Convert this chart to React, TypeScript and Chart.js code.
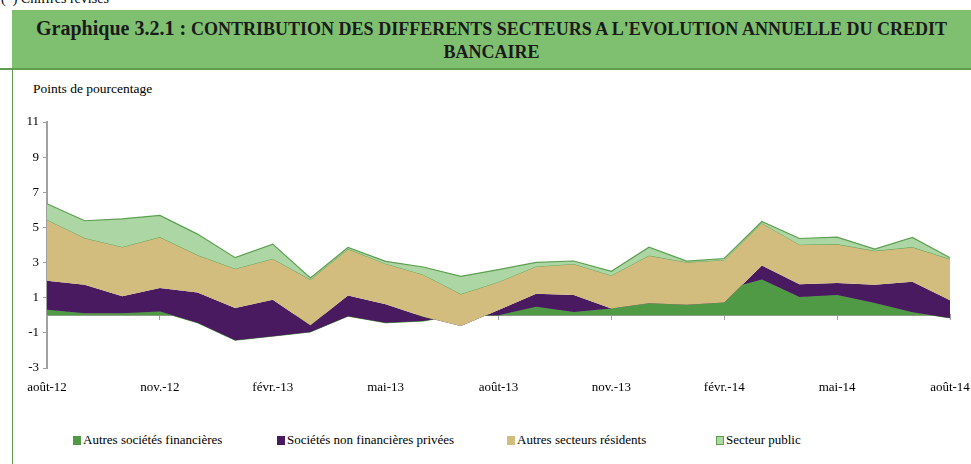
import React, { useEffect, useRef } from 'react';
import { Chart, registerables } from 'chart.js';

Chart.register(...registerables);

const months = ['août-12', 'sept.-12', 'oct.-12', 'nov.-12', 'déc.-12', 'janv.-13', 'févr.-13', 'mars-13', 'avr.-13', 'mai-13', 'juin-13', 'juil.-13', 'août-13', 'sept.-13', 'oct.-13', 'nov.-13', 'déc.-13', 'janv.-14', 'févr.-14', 'mars-14', 'avr.-14', 'mai-14', 'juin-14', 'juil.-14', 'août-14'];

const autresSocietesFinancieres = [0.32, 0.12, 0.12, 0.21, -0.43, -1.42, -1.19, -0.95, -0.05, -0.43, -0.33, 0.05, 0.0, 0.49, 0.19, 0.38, 0.85, 0.9, 1.46, 2.04, 1.04, 1.16, 0.7, 0.17, -0.15];
const societesNonFinancieresPrivees = [1.65, 1.62, 0.96, 1.34, 1.72, 1.84, 2.08, 0.38, 1.17, 1.06, 0.25, -0.66, 0.3, 0.74, 0.97, 0.0, -0.16, -0.3, -0.73, 0.79, 0.72, 0.68, 1.04, 1.74, 1.0];
const autresSecteursResidents = [3.47, 2.66, 2.81, 2.9, 2.14, 2.23, 2.33, 2.6, 2.65, 2.31, 2.39, 1.82, 1.6, 1.55, 1.76, 1.89, 2.71, 2.42, 2.42, 2.41, 2.26, 2.21, 1.93, 1.97, 2.35];
const secteurPublic = [0.91, 0.98, 1.6, 1.23, 1.19, 0.63, 0.83, 0.09, 0.09, 0.13, 0.44, 1.01, 0.7, 0.23, 0.17, 0.23, 0.47, 0.06, 0.08, 0.1, 0.35, 0.4, 0.1, 0.55, 0.07];

const seriesNames = ['Autres sociétés financières', 'Sociétés non financières privées', 'Autres secteurs résidents', 'Secteur public'];
const yTicks = [-3, -1, 1, 3, 5, 7, 9, 11];

const FONT = "'Liberation Serif', 'Times New Roman', serif";
const COLORS = {
  asf: '#509a45',
  snf: '#4a1a61',
  ars: '#d2bd7e',
  sp: '#acd7a5',
  spLine: '#5d9f50',
  axis: '#a0a0a0',
};

// Excel-style stacked area: each boundary is the running sum of the series.
function cumulate(series: number[][]): number[][] {
  const out: number[][] = [];
  series.forEach((s, k) => {
    out.push(s.map((v, i) => (k === 0 ? v : out[k - 1][i] + v)));
  });
  return out;
}

export default function App() {
  const canvasRef = useRef<HTMLCanvasElement | null>(null);

  useEffect(() => {
    document.body.style.margin = '0';
    const canvas = canvasRef.current;
    if (!canvas) return;
    const cum = cumulate([autresSocietesFinancieres, societesNonFinancieresPrivees, autresSecteursResidents, secteurPublic]);
    const quarterOnly = (axis: any) => {
      axis.ticks = axis.ticks.filter((t: any) => t.value % 3 === 0);
    };
    const chart = new Chart(canvas, {
      type: 'line',
      data: {
        labels: months,
        datasets: [
          {
            label: seriesNames[0],
            data: cum[0],
            backgroundColor: COLORS.asf,
            borderColor: COLORS.asf,
            borderWidth: 1,
            fill: 'origin',
            order: 4,
          },
          {
            label: seriesNames[1],
            data: cum[1],
            backgroundColor: COLORS.snf,
            borderColor: 'transparent',
            borderWidth: 1,
            fill: '-1',
            order: 3,
          },
          {
            label: seriesNames[2],
            data: cum[2],
            backgroundColor: COLORS.ars,
            borderColor: COLORS.spLine,
            borderWidth: 1,
            fill: '-1',
            order: 2,
          },
          {
            label: seriesNames[3],
            data: cum[3],
            backgroundColor: COLORS.sp,
            borderColor: COLORS.spLine,
            borderWidth: 1.2,
            fill: '-1',
            order: 1,
          },
        ],
      },
      options: {
        animation: false,
        responsive: false,
        devicePixelRatio: 1,
        layout: { padding: { top: 52, right: 21, left: 0, bottom: 0 } },
        elements: {
          point: { radius: 0, hoverRadius: 0 },
          line: { tension: 0 },
        },
        plugins: {
          legend: { display: false },
          tooltip: { enabled: false },
          title: { display: false },
        },
        scales: {
          x: {
            type: 'category',
            position: { y: 0 } as any,
            offset: false,
            afterBuildTicks: quarterOnly,
            afterFit: (s: any) => {
              s.paddingLeft = 0;
              s.paddingRight = 0;
            },
            grid: { drawOnChartArea: false, drawTicks: true, tickLength: 4, color: COLORS.axis, lineWidth: 1 },
            border: { display: true, color: COLORS.axis, width: 2 },
            ticks: { display: false, autoSkip: false },
          },
          x2: {
            type: 'category',
            position: 'bottom',
            offset: false,
            afterBuildTicks: quarterOnly,
            afterFit: (s: any) => {
              s.height = 32;
              s.paddingLeft = 0;
              s.paddingRight = 0;
            },
            grid: { display: false },
            border: { display: false },
            ticks: {
              autoSkip: false,
              maxRotation: 0,
              padding: 4,
              color: '#000',
              font: { family: FONT, size: 13 },
            },
          },
          y: {
            min: -3,
            max: 11,
            afterBuildTicks: (axis: any) => {
              axis.ticks = yTicks.map((v) => ({ value: v }));
            },
            afterFit: (s: any) => {
              s.width = 32;
            },
            grid: { drawOnChartArea: false, drawTicks: true, tickLength: 4, color: COLORS.axis },
            border: { display: true, color: COLORS.axis, width: 2 },
            ticks: {
              padding: 4,
              color: '#000',
              font: { family: FONT, size: 13 },
            },
          },
        },
      },
    });
    return () => chart.destroy();
  }, []);

  const legendItems = [
    { name: seriesNames[0], color: COLORS.asf, border: COLORS.asf, left: 73 },
    { name: seriesNames[1], color: COLORS.snf, border: COLORS.snf, left: 277 },
    { name: seriesNames[2], color: COLORS.ars, border: COLORS.ars, left: 507 },
    { name: seriesNames[3], color: COLORS.sp, border: COLORS.spLine, left: 716 },
  ];

  return (
    <div style={{ position: 'relative', width: 971, height: 464, overflow: 'hidden', background: '#fff', fontFamily: FONT }}>
      <div style={{ position: 'absolute', left: 1, top: -9, fontSize: 14, lineHeight: '16px', color: '#000', whiteSpace: 'nowrap' }}>(*) Chiffres révisés</div>
      <div
        style={{
          position: 'absolute',
          left: 12,
          top: 10,
          width: 959,
          height: 59,
          background: '#7fbf70',
          textAlign: 'center',
          fontWeight: 'bold',
          color: '#1a1a1a',
          boxSizing: 'border-box',
          paddingTop: 7,
          lineHeight: '22px',
          whiteSpace: 'nowrap',
        }}
      >
        <span style={{ fontSize: 20 }}>Graphique 3.2.1 : </span>
        <span style={{ fontSize: 18 }}>CONTRIBUTION DES DIFFERENTS SECTEURS A L'EVOLUTION ANNUELLE DU CREDIT</span>
        <br />
        <span style={{ fontSize: 18 }}>BANCAIRE</span>
      </div>
      <div style={{ position: 'absolute', left: 0, top: 68, width: 971, height: 2, background: '#5f9d51' }} />
      <div style={{ position: 'absolute', left: 12, top: 68, width: 1, height: 400, background: '#5f9d51' }} />
      <div style={{ position: 'absolute', left: 33, top: 81, fontSize: 13.5, color: '#000', whiteSpace: 'nowrap' }}>Points de pourcentage</div>
      <div style={{ position: 'absolute', left: 15, top: 70 }}>
        <canvas ref={canvasRef} width={956} height={330} style={{ display: 'block', width: 956, height: 330 }} />
      </div>
      {legendItems.map((it) => (
        <div key={it.name} style={{ position: 'absolute', left: it.left, top: 432, height: 16, display: 'flex', alignItems: 'center', fontSize: 13, color: '#000', whiteSpace: 'nowrap' }}>
          <span style={{ display: 'inline-block', width: 6, height: 7, background: it.color, border: `1px solid ${it.border}`, marginRight: 2 }} />
          {it.name}
        </div>
      ))}
    </div>
  );
}
